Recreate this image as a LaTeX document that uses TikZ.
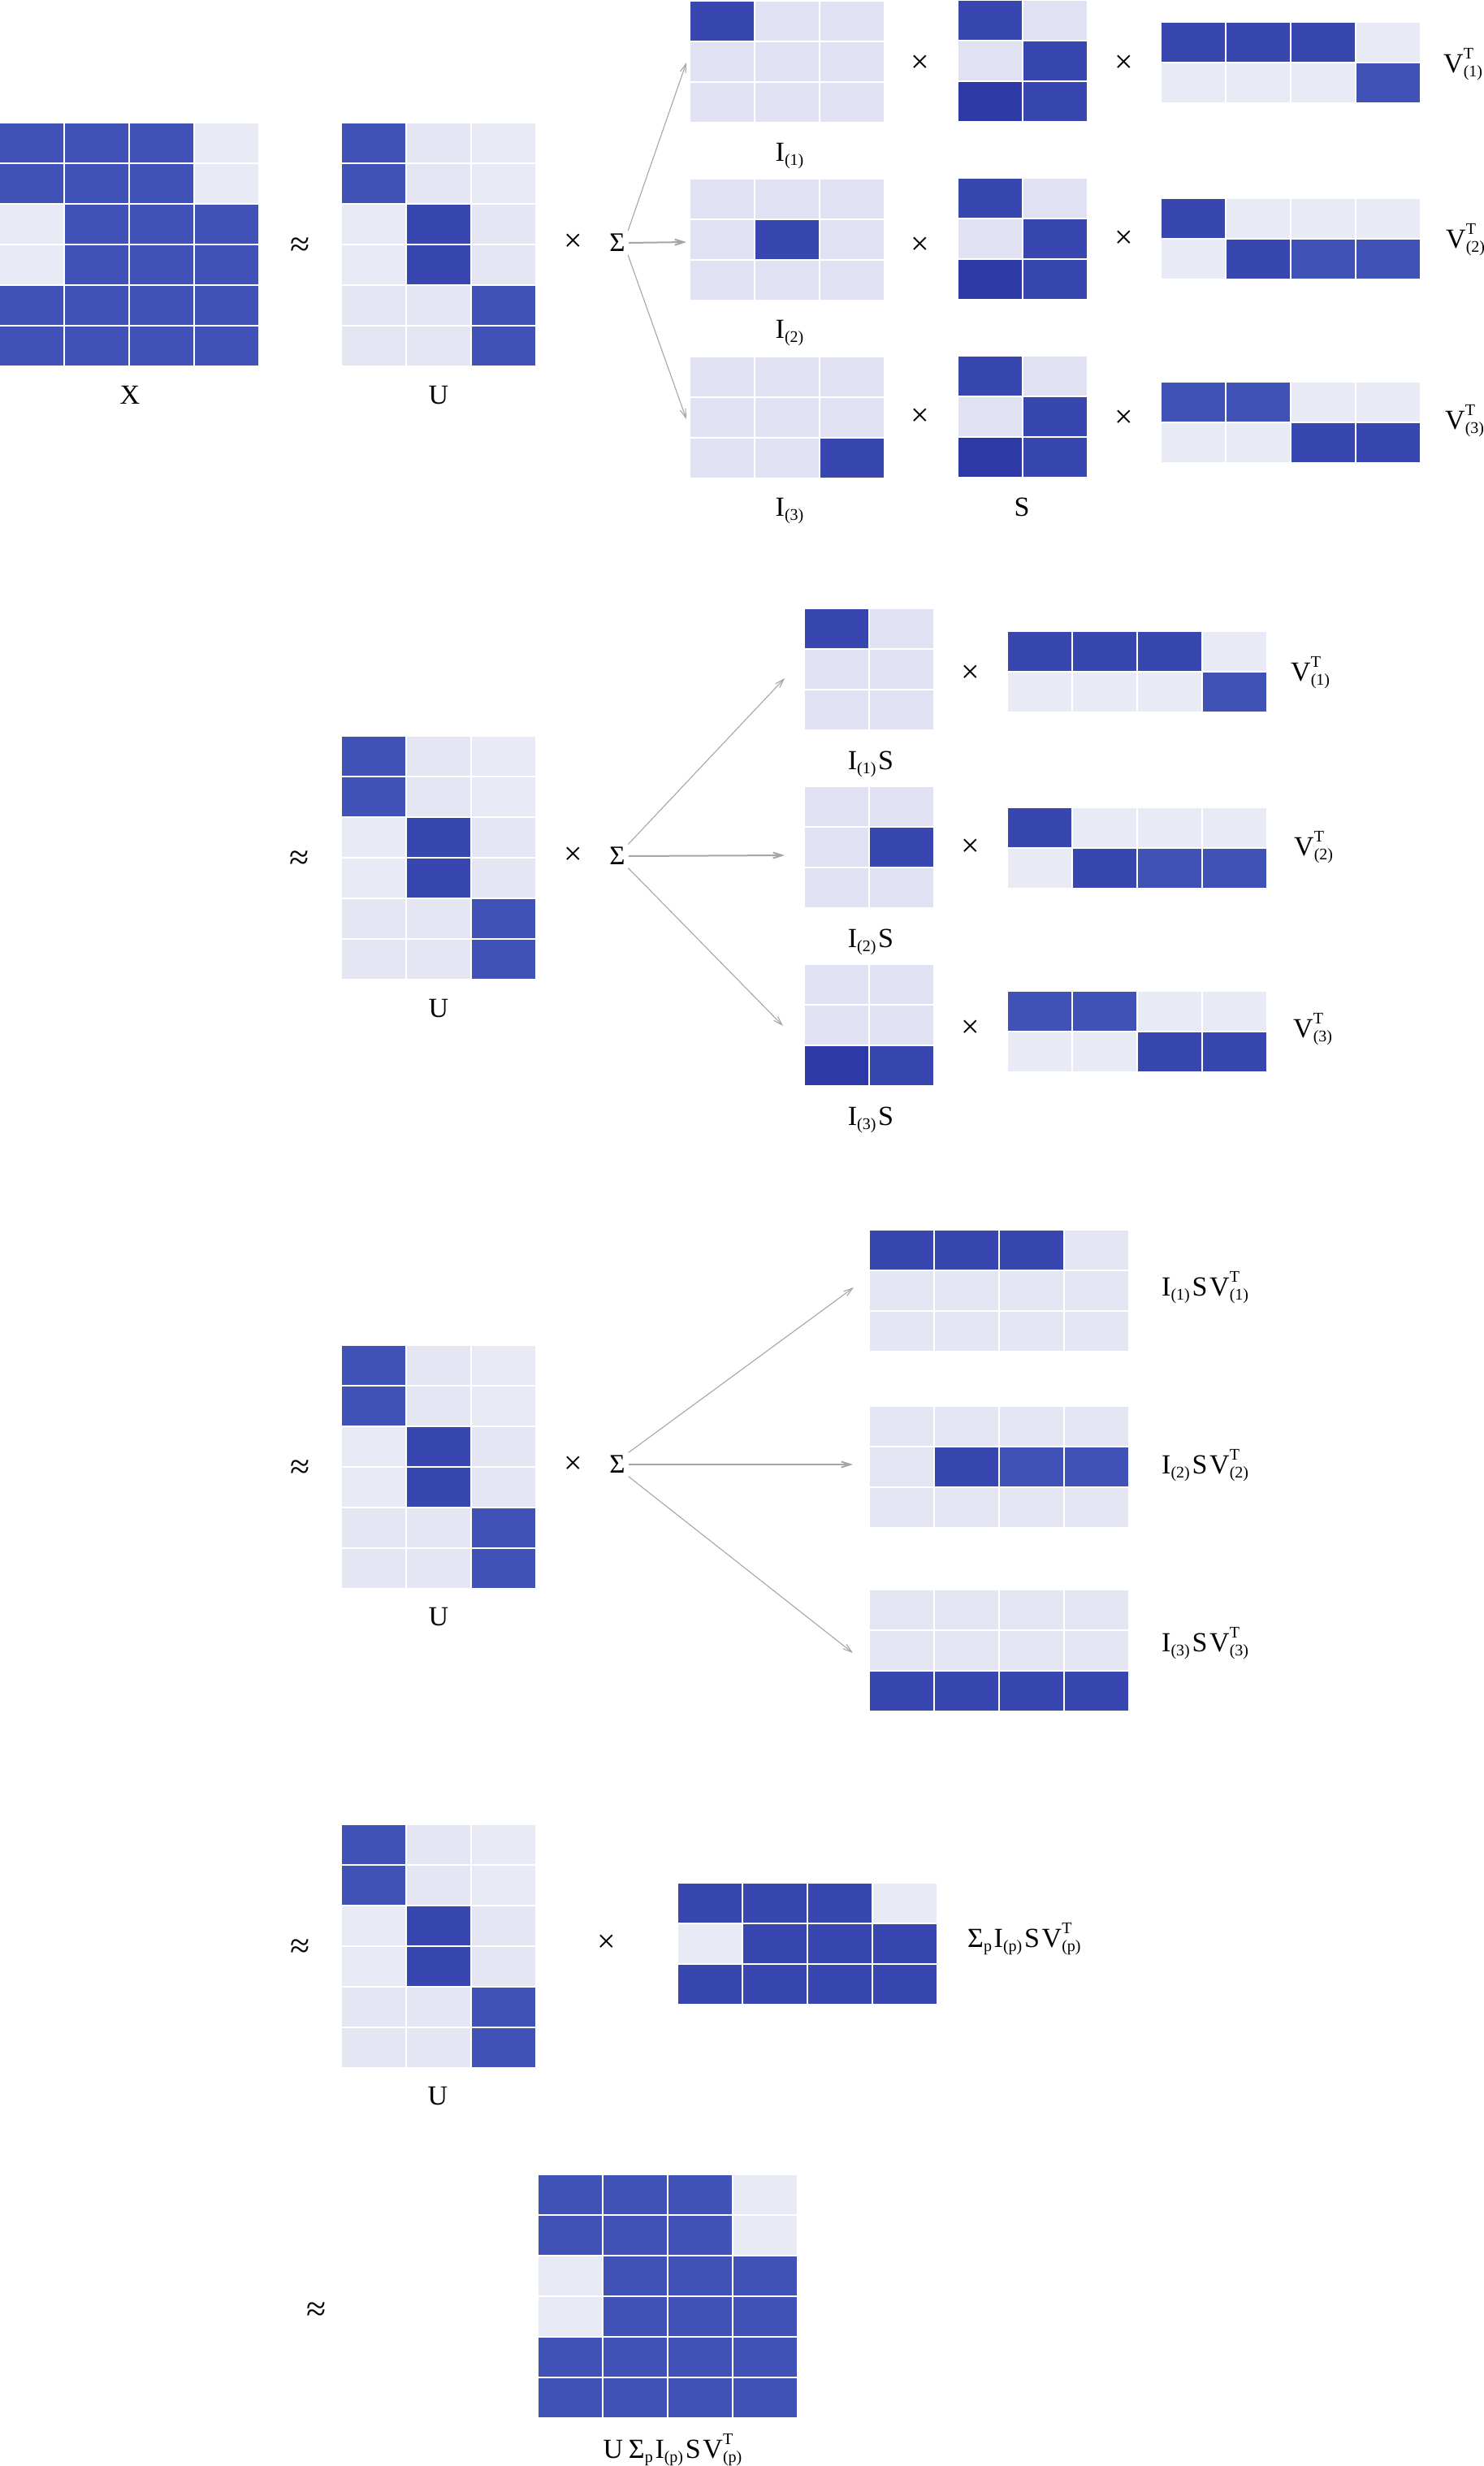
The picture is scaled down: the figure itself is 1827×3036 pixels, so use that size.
\documentclass[tikz,border=0pt]{standalone}
\usepackage{fontspec}
\setmainfont{Liberation Serif}
\usetikzlibrary{arrows.meta}
\definecolor{dA}{HTML}{4052B5}
\definecolor{dB}{HTML}{3847AF}
\definecolor{dC}{HTML}{2D39A6}
\definecolor{lA}{HTML}{E8EAF5}
\definecolor{lB}{HTML}{E4E6F3}
\definecolor{lC}{HTML}{E0E2F3}
\definecolor{arrgray}{HTML}{A6A6A6}
\newcommand{\lsub}[1]{\raisebox{-0.16em}{\fontsize{20}{22}\selectfont #1}}
\newcommand{\lss}[2]{\rlap{\raisebox{0.5em}{\fontsize{20}{22}\selectfont #1}}\raisebox{-0.16em}{\fontsize{20}{22}\selectfont #2}}
\newcommand{\tsp}{\hspace{0.08em}}
% name, x, y (top-left), ncols, nrows, colours (row-major)
\newcommand{\mymat}[6]{%
  \node[matbox, minimum width={#4*80pt}, minimum height={#5*50pt}, anchor=north west] (#1) at (#2,#3) {};
  \foreach \cc [count=\ii from 0] in {#6} {
    \pgfmathtruncatemacro\myrow{\ii/#4}
    \pgfmathtruncatemacro\mycol{\ii-\myrow*#4}
    \fill[\cc] ({#2+\mycol*80+1},{#3+\myrow*50+1}) rectangle ++(78,48);
  }
}
\tikzset{
  matbox/.style={inner sep=0pt, draw=none},
  lbl/.style={font=\fontsize{34}{40}\selectfont, inner sep=0pt},
  approx/.style={font=\fontsize{44}{50}\selectfont, inner sep=0pt},
  times/.style={font=\fontsize{40}{46}\selectfont, inner sep=0pt},
  sigma/.style={font=\fontsize{33}{40}\selectfont, inner sep=3pt},
  arr/.style={draw=arrgray, line width=1.1pt, shorten <=1pt, -{Straight Barb[length=11pt,width=7pt]}},
  arrmid/.style={arr, line width=2pt},
}
\begin{document}
\begin{tikzpicture}[x=1pt,y=-1pt]
\fill[white] (0,0) rectangle (1827,3036);
\useasboundingbox (0,0) rectangle (1827,3036);

% ================= Section 1 =================
\mymat{X}{-1}{151}{4}{6}{dA,dA,dA,lA, dA,dA,dA,lA, lA,dA,dA,dA, lA,dA,dA,dA, dA,dA,dA,dA, dA,dA,dA,dA}
\node[lbl, anchor=base] (Xl) at (160,497) {X};
\node[approx] (ap1) at (370,304) {≈};
\mymat{U1}{420}{151}{3}{6}{dA,lB,lA, dA,lB,lA, lA,dB,lB, lA,dB,lB, lB,lB,dA, lB,lB,dA}
\node[lbl, anchor=base] (U1l) at (540,497) {U};
\node[times] (mu1) at (706,299) {×};
\node[sigma] (sig1) at (760,299) {Σ};

\mymat{I1}{848.5}{0.5}{3}{3}{dB,lC,lC, lC,lC,lC, lC,lC,lC}
\mymat{I2}{848.5}{219.6}{3}{3}{lC,lC,lC, lC,dB,lC, lC,lC,lC}
\mymat{I3}{848.5}{438.5}{3}{3}{lC,lC,lC, lC,lC,lC, lC,lC,dB}
\node[lbl, anchor=base] (I1l) at (972,198) {I\lsub{(1)}};
\node[lbl, anchor=base] (I2l) at (972,416) {I\lsub{(2)}};
\node[lbl, anchor=base] (I3l) at (972,635) {I\lsub{(3)}};

\node[times] (m1a) at (1133,79) {×};
\node[times] (m1b) at (1133,303) {×};
\node[times] (m1c) at (1133,514) {×};

\mymat{S1}{1179}{0}{2}{3}{dB,lC, lC,dB, dC,dB}
\mymat{S2}{1179}{219}{2}{3}{dB,lC, lC,dB, dC,dB}
\mymat{S3}{1179}{438}{2}{3}{dB,lC, lC,dB, dC,dB}
\node[lbl, anchor=base] (Sl) at (1258,635) {S};

\node[times] (m2a) at (1384,79) {×};
\node[times] (m2b) at (1384,295) {×};
\node[times] (m2c) at (1384,516) {×};

\mymat{V1}{1428.5}{27}{4}{2}{dB,dB,dB,lA, lA,lA,lA,dA}
\mymat{V2}{1428.5}{244}{4}{2}{dB,lA,lA,lA, lA,dB,dA,dA}
\mymat{V3}{1428.5}{469.6}{4}{2}{dA,dA,lA,lA, lA,lA,dB,dB}
\node[lbl, anchor=base west] (V1l) at (1777,89) {V\lss{T}{(1)}};
\node[lbl, anchor=base west] (V2l) at (1780,305) {V\lss{T}{(2)}};
\node[lbl, anchor=base west] (V3l) at (1779,528) {V\lss{T}{(3)}};

\coordinate (e1a) at (845,77);
\coordinate (e1b) at (845,298);
\coordinate (e1c) at (845,516);
\draw[arr] (sig1.north east) -- (e1a);
\draw[arrmid] (sig1.east) -- (e1b);
\draw[arr] (sig1.south east) -- (e1c);

% ================= Section 2 =================
\node[approx] (ap2) at (369,1059) {≈};
\mymat{U2}{420}{905.5}{3}{6}{dA,lB,lA, dA,lB,lA, lA,dB,lB, lA,dB,lB, lB,lB,dA, lB,lB,dA}
\node[lbl, anchor=base] (U2l) at (540,1252) {U};
\node[times] (mu2) at (706,1054) {×};
\node[sigma] (sig2) at (760,1054) {Σ};

\mymat{IS1}{990}{749}{2}{3}{dB,lC, lC,lC, lC,lC}
\mymat{IS2}{990}{968}{2}{3}{lC,lC, lC,dB, lC,lC}
\mymat{IS3}{990}{1187}{2}{3}{lC,lC, lC,lC, dC,dB}
\node[lbl, anchor=base] (IS1l) at (1072,947) {I\lsub{(1)}\tsp S};
\node[lbl, anchor=base] (IS2l) at (1072,1166) {I\lsub{(2)}\tsp S};
\node[lbl, anchor=base] (IS3l) at (1072,1385) {I\lsub{(3)}\tsp S};

\node[times] (m3a) at (1195,830) {×};
\node[times] (m3b) at (1195,1044) {×};
\node[times] (m3c) at (1195,1267) {×};

\mymat{W1}{1240}{777}{4}{2}{dB,dB,dB,lA, lA,lA,lA,dA}
\mymat{W2}{1240}{993.5}{4}{2}{dB,lA,lA,lA, lA,dB,dA,dA}
\mymat{W3}{1240}{1220}{4}{2}{dA,dA,lA,lA, lA,lA,dB,dB}
\node[lbl, anchor=base west] (W1l) at (1589,838) {V\lss{T}{(1)}};
\node[lbl, anchor=base west] (W2l) at (1593,1053) {V\lss{T}{(2)}};
\node[lbl, anchor=base west] (W3l) at (1592,1277) {V\lss{T}{(3)}};

\coordinate (e2a) at (966,835);
\coordinate (e2b) at (966,1053);
\coordinate (e2c) at (964,1263);
\draw[arr] (sig2.north east) -- (e2a);
\draw[arrmid] (sig2.east) -- (e2b);
\draw[arr] (sig2.south east) -- (e2c);

% ================= Section 3 =================
\node[approx] (ap3) at (370,1809) {≈};
\mymat{U3}{420}{1656}{3}{6}{dA,lB,lA, dA,lB,lA, lA,dB,lB, lA,dB,lB, lB,lB,dA, lB,lB,dA}
\node[lbl, anchor=base] (U3l) at (540,2001) {U};
\node[times] (mu3) at (706,1804) {×};
\node[sigma] (sig3) at (760,1803) {Σ};

\mymat{R1}{1069.5}{1514}{4}{3}{dB,dB,dB,lB, lB,lB,lB,lB, lB,lB,lB,lB}
\mymat{R2}{1069.5}{1731}{4}{3}{lB,lB,lB,lB, lB,dB,dA,dA, lB,lB,lB,lB}
\mymat{R3}{1069.5}{1956.5}{4}{3}{lB,lB,lB,lB, lB,lB,lB,lB, dB,dB,dB,dB}
\node[lbl, anchor=base west] (R1l) at (1430,1595) {I\lsub{(1)}\tsp S\tsp V\lss{T}{(1)}};
\node[lbl, anchor=base west] (R2l) at (1430,1814) {I\lsub{(2)}\tsp S\tsp V\lss{T}{(2)}};
\node[lbl, anchor=base west] (R3l) at (1430,2033) {I\lsub{(3)}\tsp S\tsp V\lss{T}{(3)}};

\coordinate (e3a) at (1051,1585);
\coordinate (e3b) at (1050,1803);
\coordinate (e3c) at (1050,2035);
\draw[arr] (sig3.north east) -- (e3a);
\draw[arrmid] (sig3.east) -- (e3b);
\draw[arr] (sig3.south east) -- (e3c);

% ================= Section 4 =================
\node[approx] (ap4) at (370,2399) {≈};
\mymat{U4}{420}{2246}{3}{6}{dA,lB,lA, dA,lB,lA, lA,dB,lB, lA,dB,lB, lB,lB,dA, lB,lB,dA}
\node[lbl, anchor=base] (U4l) at (539,2591) {U};
\node[times] (mu4) at (747,2393) {×};
\mymat{P}{834}{2318}{4}{3}{dB,dB,dB,lA, lA,dB,dB,dB, dB,dB,dB,dB}
\node[lbl, anchor=base west] (Pl) at (1191,2397) {Σ\lsub{p}\tsp I\lsub{(p)}\tsp S\tsp V\lss{T}{(p)}};

% ================= Section 5 =================
\node[approx] (ap5) at (390,2846) {≈};
\mymat{F}{661.6}{2677}{4}{6}{dA,dA,dA,lA, dA,dA,dA,lA, lA,dA,dA,dA, lA,dA,dA,dA, dA,dA,dA,dA, dA,dA,dA,dA}
\node[lbl, anchor=base] (Fl) at (828,3026) {U\hspace{0.2em}Σ\lsub{p}\tsp I\lsub{(p)}\tsp S\tsp V\lss{T}{(p)}};
\end{tikzpicture}
\end{document}
